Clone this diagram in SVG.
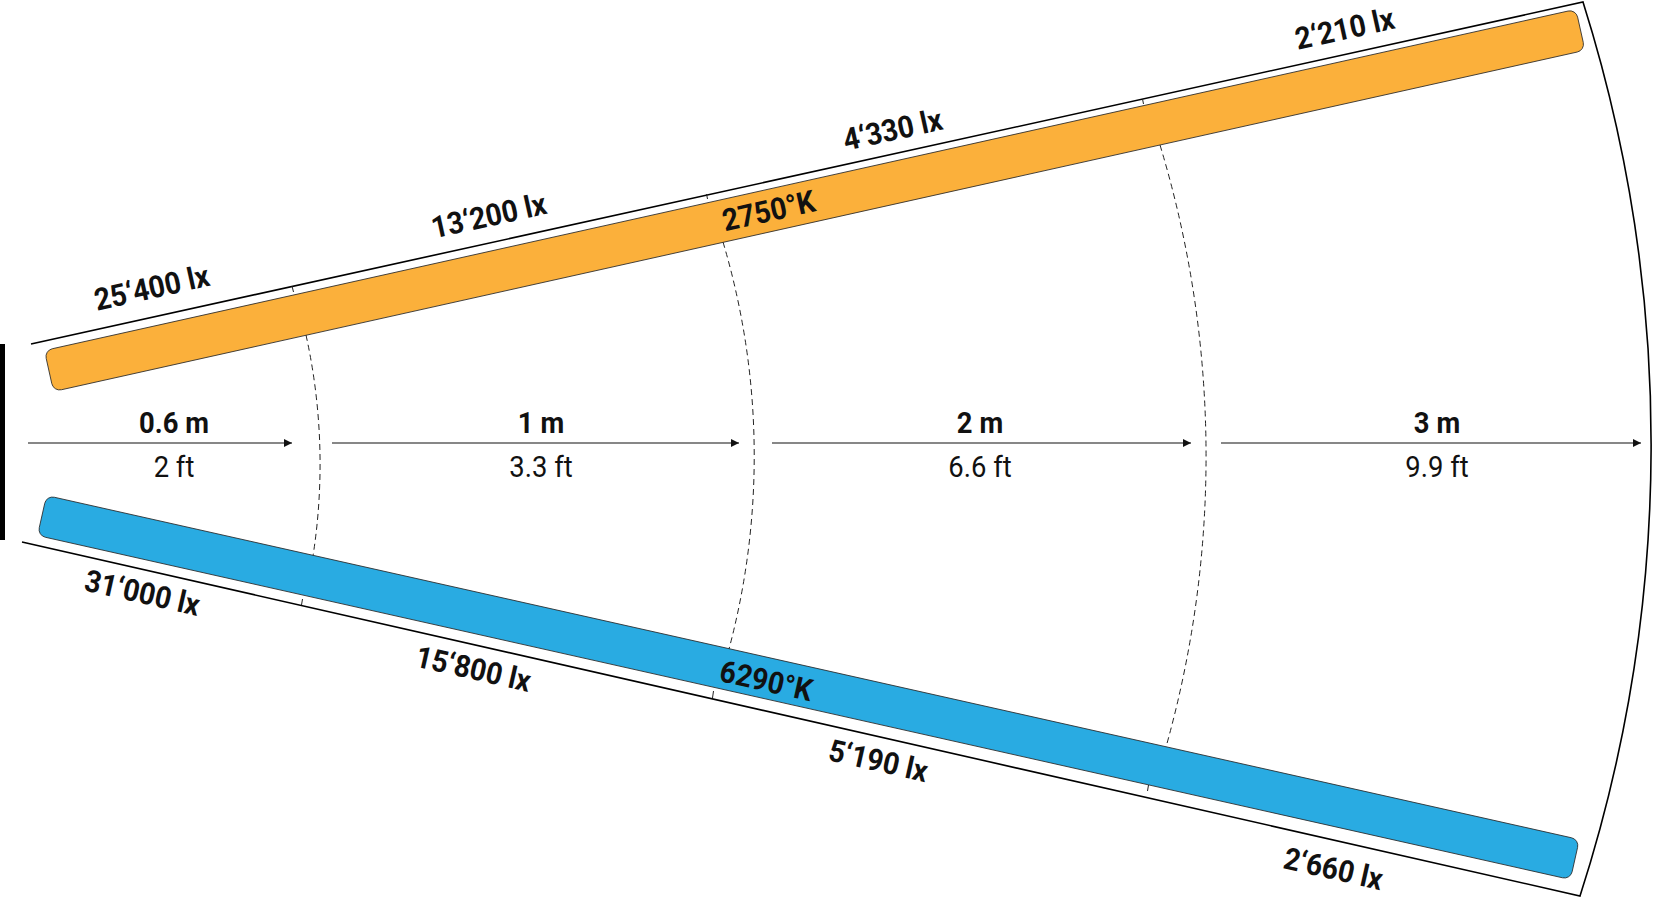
<svg xmlns="http://www.w3.org/2000/svg" width="1653" height="902" viewBox="0 0 1653 902">
<defs>
<style>
.lx{font-family:Roboto,"Liberation Sans",sans-serif;font-weight:700;font-size:30.5px;fill:#111;text-anchor:middle}
.m{font-family:Roboto,"Liberation Sans",sans-serif;font-weight:700;font-size:29.5px;fill:#111;text-anchor:middle}
.ft{font-family:Roboto,"Liberation Sans",sans-serif;font-weight:400;font-size:29.5px;fill:#111;text-anchor:middle}
.outer{fill:none;stroke:#000;stroke-width:1.6}
.dash{fill:none;stroke:#222;stroke-width:1;stroke-dasharray:6 4}
.tick{stroke:#222;stroke-width:1}
.arrow{stroke:#111;stroke-width:1.2;fill:none}
.bar{stroke:#2a2a2a;stroke-width:0.8}
</style>
<marker id="ah" markerUnits="userSpaceOnUse" markerWidth="10" markerHeight="10" refX="9" refY="5" orient="auto">
<path d="M1,1 L9,5 L1,9 Z" fill="#111"/>
</marker>
</defs>
<rect width="1653" height="902" fill="#fff"/>

<g id="frame">
<rect x="0" y="344" width="5" height="196" fill="#000"/>
<path class="outer" d="M31,344 L1583,2 A1470,1470 0 0 1 1580,896 L22,542"/>
</g>

<g id="guides">
<path class="dash" d="M306,335 A600,600 0 0 1 313,556"/>
<path class="dash" d="M723,242 A750,750 0 0 1 729,649"/>
<path class="dash" d="M1160,145 A1075,1075 0 0 1 1166,747"/>
<line class="tick" x1="292" y1="286" x2="293.5" y2="292"/>
<line class="tick" x1="706.5" y1="194" x2="707.5" y2="199"/>
<line class="tick" x1="1142.5" y1="99" x2="1143.5" y2="104"/>
<line class="tick" x1="302.5" y1="599" x2="301.5" y2="605"/>
<line class="tick" x1="713.5" y1="691" x2="712.5" y2="698"/>
<line class="tick" x1="1148.5" y1="785" x2="1147.5" y2="791"/>
</g>

<g id="warm-bar">
<rect class="bar" x="0" y="-21" width="1569" height="42" rx="8" fill="#FBB03B" transform="translate(49,371) rotate(-12.56)"/>
<text class="lx" transform="translate(771,221) rotate(-12.5) scale(0.93,1)">2750°K</text>
</g>

<g id="cool-bar">
<rect class="bar" x="0" y="-20.5" width="1571" height="41" rx="8" fill="#29ABE2" transform="translate(42,515.5) rotate(12.65)"/>
<text class="lx" transform="translate(764,691) rotate(12.6) scale(0.93,1)">6290°K</text>
</g>

<g id="connectors">
<line class="arrow" x1="28" y1="443" x2="292" y2="443" marker-end="url(#ah)"/>
<line class="arrow" x1="332" y1="443" x2="739" y2="443" marker-end="url(#ah)"/>
<line class="arrow" x1="772" y1="443" x2="1191" y2="443" marker-end="url(#ah)"/>
<line class="arrow" x1="1221" y1="443" x2="1641" y2="443" marker-end="url(#ah)"/>
</g>

<g id="distances">
<text class="m" transform="translate(174,433) scale(0.93,1)">0.6 m</text>
<text class="ft" transform="translate(174,477) scale(0.93,1)">2 ft</text>
<text class="m" transform="translate(541,433) scale(0.93,1)">1 m</text>
<text class="ft" transform="translate(541,477) scale(0.93,1)">3.3 ft</text>
<text class="m" transform="translate(980,433) scale(0.93,1)">2 m</text>
<text class="ft" transform="translate(980,477) scale(0.93,1)">6.6 ft</text>
<text class="m" transform="translate(1437,433) scale(0.93,1)">3 m</text>
<text class="ft" transform="translate(1437,477) scale(0.93,1)">9.9 ft</text>
</g>

<g id="top-illuminance">
<text class="lx" transform="translate(154,298) rotate(-12.5) scale(0.93,1)">25‘400 lx</text>
<text class="lx" transform="translate(491,226) rotate(-12.4) scale(0.93,1)">13‘200 lx</text>
<text class="lx" transform="translate(895,140) rotate(-12.4) scale(0.93,1)">4‘330 lx</text>
<text class="lx" transform="translate(1347,39) rotate(-12.4) scale(0.93,1)">2‘210 lx</text>
</g>

<g id="bottom-illuminance">
<text class="lx" transform="translate(140,603) rotate(12.7) scale(0.93,1)">31‘000 lx</text>
<text class="lx" transform="translate(471,679) rotate(12.7) scale(0.93,1)">15‘800 lx</text>
<text class="lx" transform="translate(876,771) rotate(12.7) scale(0.93,1)">5‘190 lx</text>
<text class="lx" transform="translate(1331,879) rotate(12.7) scale(0.93,1)">2‘660 lx</text>
</g>
</svg>
